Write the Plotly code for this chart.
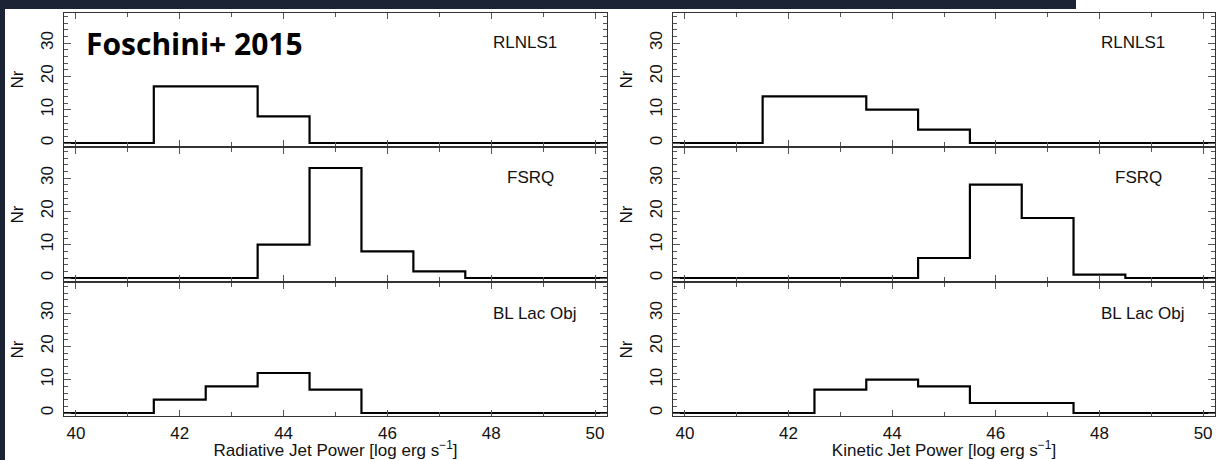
import plotly.graph_objects as go
from plotly.subplots import make_subplots

W, H = 1217, 460

# bin centres (log erg/s), unit-width bins
power_bins = [39, 40, 41, 42, 43, 44, 45, 46, 47, 48, 49, 50, 51]

# radiative jet power counts
rad_rlnls1 = [0, 0, 0, 17, 17, 8, 0, 0, 0, 0, 0, 0, 0]
rad_fsrq = [0, 0, 0, 0, 0, 10, 33, 8, 2, 0, 0, 0, 0]
rad_bllac = [0, 0, 0, 4, 8, 12, 7, 0, 0, 0, 0, 0, 0]

# kinetic jet power counts
kin_rlnls1 = [0, 0, 0, 14, 14, 10, 4, 0, 0, 0, 0, 0, 0]
kin_fsrq = [0, 0, 0, 0, 0, 0, 6, 28, 18, 1, 0, 0, 0]
kin_bllac = [0, 0, 0, 0, 7, 10, 8, 3, 3, 0, 0, 0, 0]

class_labels = ["RLNLS1", "FSRQ", "BL Lac Obj"]
x_titles = ["Radiative Jet Power [log erg s<sup>\u22121</sup>]",
            "Kinetic Jet Power [log erg s<sup>\u22121</sup>]"]
y_title = "Nr"
x_ticks = [40, 42, 44, 46, 48, 50]
y_ticks = [0, 10, 20, 30]

columns = [[rad_rlnls1, rad_fsrq, rad_bllac], [kin_rlnls1, kin_fsrq, kin_bllac]]

FONT = "Liberation Sans, Arial, Helvetica, sans-serif"
FS = 17

# left edge (data units) of each panel's class name, per row
label_x = [48.0, 48.27, 48.0]


def px_x(p):
    return p / W


def px_y(p):
    return 1 - p / H


# panel geometry in pixels
col_x = [(64, 607), (673, 1215)]
row_y = [(13, 146), (148, 281), (283, 416)]

fig = make_subplots(rows=3, cols=2)

for c in range(2):
    for r in range(3):
        fig.add_trace(
            go.Scatter(
                x=power_bins,
                y=columns[c][r],
                mode="lines",
                line=dict(shape="hvh", color="black", width=2.2),
                showlegend=False,
                hoverinfo="skip",
            ),
            row=r + 1,
            col=c + 1,
        )
        bottom = r == 2
        xa = dict(
            domain=[px_x(col_x[c][0]), px_x(col_x[c][1])],
            range=[39.77, 50.23],
            tickvals=x_ticks,
            ticks="inside",
            ticklen=6,
            tickwidth=1,
            tickcolor="#555",
            minor=dict(dtick=1, tick0=40, ticks="inside", ticklen=4, tickcolor="#555"),
            showline=True,
            linecolor="#333",
            linewidth=1,
            mirror="allticks",
            showgrid=False,
            zeroline=False,
            showticklabels=bottom,
            tickfont=dict(family=FONT, size=FS, color="#111"),
            ticklabelstandoff=2,
        )
        if bottom:
            xa["title"] = dict(text=x_titles[c],
                               font=dict(family=FONT, size=FS, color="#111"),
                               standoff=2)
        fig.update_xaxes(**xa, row=r + 1, col=c + 1)
        fig.update_yaxes(
            domain=[px_y(row_y[r][1]), px_y(row_y[r][0])],
            range=[-0.9, 39],
            tickvals=y_ticks,
            tickangle=-90,
            ticks="inside",
            ticklen=7,
            tickwidth=1,
            tickcolor="#555",
            minor=dict(dtick=2, tick0=0, ticks="inside", ticklen=4, tickcolor="#555"),
            showline=True,
            linecolor="#333",
            linewidth=1,
            mirror="allticks",
            showgrid=False,
            zeroline=False,
            tickfont=dict(family=FONT, size=FS, color="#111"),
            ticklabelstandoff=3,
            title=dict(text=y_title, font=dict(family=FONT, size=FS, color="#111"),
                       standoff=10),
            row=r + 1,
            col=c + 1,
        )

# class name in the upper right of each panel
idx = 0
for r in range(3):
    for c in range(2):
        idx += 1
        suffix = "" if idx == 1 else str(idx)
        fig.add_annotation(
            x=label_x[r], y=30, xref="x" + suffix, yref="y" + suffix,
            text=class_labels[r], showarrow=False,
            font=dict(family=FONT, size=FS, color="#111"),
            xanchor="left", yanchor="middle",
        )

fig.add_annotation(
    x=px_x(84), y=px_y(43), xref="paper", yref="paper",
    text="<b>Foschini+ 2015</b>", showarrow=False,
    font=dict(family="Open Sans, Noto Sans, sans-serif", size=30, color="black"),
    xanchor="left", yanchor="middle",
)

# dark slide backdrop peeking at the top and left edges
backdrop = "#1b2335"
fig.add_shape(type="rect", xref="paper", yref="paper",
              x0=0, x1=px_x(1076), y0=px_y(9), y1=1,
              fillcolor=backdrop, line=dict(width=0), layer="below")
fig.add_shape(type="rect", xref="paper", yref="paper",
              x0=0, x1=px_x(5), y0=0, y1=1,
              fillcolor=backdrop, line=dict(width=0), layer="below")

fig.update_layout(
    width=W,
    height=H,
    margin=dict(l=0, r=0, t=0, b=0),
    paper_bgcolor="white",
    plot_bgcolor="white",
    showlegend=False,
)

fig.write_html("out.html")
